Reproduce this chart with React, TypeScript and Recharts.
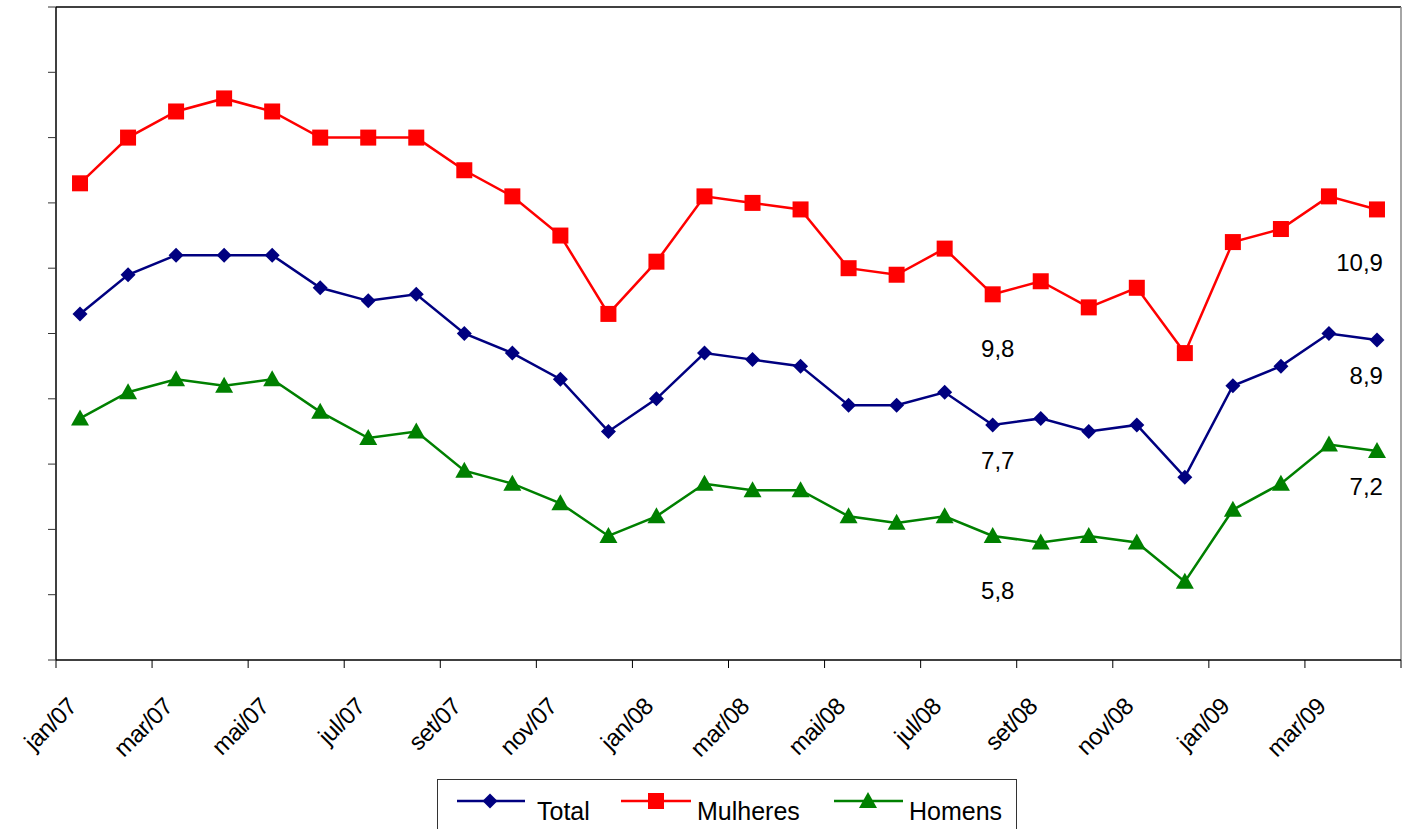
import React from 'react';
import { LineChart, Line, XAxis, YAxis, LabelList, ReferenceLine } from 'recharts';

const months = [
  'jan/07', 'fev/07', 'mar/07', 'abr/07', 'mai/07', 'jun/07', 'jul/07', 'ago/07', 'set/07', 'out/07', 'nov/07', 'dez/07',
  'jan/08', 'fev/08', 'mar/08', 'abr/08', 'mai/08', 'jun/08', 'jul/08', 'ago/08', 'set/08', 'out/08', 'nov/08', 'dez/08',
  'jan/09', 'fev/09', 'mar/09', 'abr/09',
];

const total = [9.3, 9.9, 10.2, 10.2, 10.2, 9.7, 9.5, 9.6, 9.0, 8.7, 8.3, 7.5, 8.0, 8.7, 8.6, 8.5, 7.9, 7.9, 8.1, 7.6, 7.7, 7.5, 7.6, 6.8, 8.2, 8.5, 9.0, 8.9];
const mulheres = [11.3, 12.0, 12.4, 12.6, 12.4, 12.0, 12.0, 12.0, 11.5, 11.1, 10.5, 9.3, 10.1, 11.1, 11.0, 10.9, 10.0, 9.9, 10.3, 9.6, 9.8, 9.4, 9.7, 8.7, 10.4, 10.6, 11.1, 10.9];
const homens = [7.7, 8.1, 8.3, 8.2, 8.3, 7.8, 7.4, 7.5, 6.9, 6.7, 6.4, 5.9, 6.2, 6.7, 6.6, 6.6, 6.2, 6.1, 6.2, 5.9, 5.8, 5.9, 5.8, 5.2, 6.3, 6.7, 7.3, 7.2];

const yTicks = [4, 5, 6, 7, 8, 9, 10, 11, 12, 13, 14];
const xTicks = [0, 2, 4, 6, 8, 10, 12, 14, 16, 18, 20, 22, 24, 26, 28];
const labeledIndices = [20, 27];

const data = months.map((m, i) => ({
  x: i + 0.5,
  month: m,
  total: total[i],
  mulheres: mulheres[i],
  homens: homens[i],
}));

const FONT = '"Liberation Sans", Arial, sans-serif';
const BLUE = '#000080';
const RED = '#FF0000';
const GREEN = '#008000';

const Diamond = (props: any) => {
  const { cx, cy } = props;
  if (cx == null || cy == null) return null;
  const r = 7.5;
  return <path d={`M${cx},${cy - r}L${cx + r},${cy}L${cx},${cy + r}L${cx - r},${cy}Z`} fill={BLUE} />;
};
const Square = (props: any) => {
  const { cx, cy } = props;
  if (cx == null || cy == null) return null;
  return <rect x={cx - 8} y={cy - 8} width={16} height={16} fill={RED} />;
};
const Triangle = (props: any) => {
  const { cx, cy } = props;
  if (cx == null || cy == null) return null;
  return <path d={`M${cx},${cy - 9}L${cx + 9},${cy + 7}L${cx - 9},${cy + 7}Z`} fill={GREEN} />;
};

const labelOffsets: Record<string, { mid: number; end: number }> = {
  mulheres: { mid: 76, end: 62 },
  total: { mid: 51, end: 44 },
  homens: { mid: 57, end: 44 },
};

const makeLabel = (key: string) => (props: any) => {
  const { x, y, value, index } = props;
  if (!labeledIndices.includes(index)) return null;
  const txt = String(value.toFixed(1)).replace('.', ',');
  const isLast = index === data.length - 1;
  const off = labelOffsets[key];
  if (isLast) {
    return (
      <text x={x + 6} y={y + off.end} textAnchor="end" fontSize={24} fontFamily={FONT} fill="#000">
        {txt}
      </text>
    );
  }
  return (
    <text x={x - 43} y={y + off.mid} textAnchor="middle" fontSize={24} fontFamily={FONT} fill="#000">
      {txt}
    </text>
  );
};

const XTick = (props: any) => {
  const { x, y, payload } = props;
  const label = months[payload.value];
  if (!label) return null;
  const ax = x + 22;
  const ay = y + 38;
  return (
    <text x={ax} y={ay} transform={`rotate(-45, ${ax}, ${ay})`} textAnchor="end" fontSize={24} letterSpacing={-0.6} fontFamily={FONT} fill="#000">
      {label}
    </text>
  );
};

const LegendBox = () => (
  <div
    style={{
      position: 'absolute',
      left: 437,
      top: 779,
      width: 580,
      height: 60,
      border: '1.5px solid #333',
      background: '#fff',
      boxSizing: 'border-box',
    }}
  >
    <svg width={580} height={60} style={{ position: 'absolute', left: -1, top: -1 }}>
      <line x1={20} y1={22} x2={88} y2={22} stroke={BLUE} strokeWidth={2.5} />
      <Diamond cx={53} cy={22} />
      <text x={100} y={41} fontSize={25} fontFamily={FONT}>Total</text>
      <line x1={184} y1={22} x2={254} y2={22} stroke={RED} strokeWidth={2.5} />
      <Square cx={219} cy={22} />
      <text x={260} y={41} fontSize={25} fontFamily={FONT}>Mulheres</text>
      <line x1={397} y1={22} x2={466} y2={22} stroke={GREEN} strokeWidth={2.5} />
      <Triangle cx={431} cy={22} />
      <text x={472} y={41} fontSize={25} fontFamily={FONT}>Homens</text>
    </svg>
  </div>
);

export default function App() {
  return (
    <div style={{ position: 'absolute', left: 0, top: 0, width: 1405, height: 829, overflow: 'hidden', background: '#fff', fontFamily: FONT }}>
      <LineChart width={1405} height={829} data={data} margin={{ top: 7, right: 4, left: 0, bottom: 0 }}>
        <XAxis
          xAxisId="x"
          dataKey="x"
          type="number"
          domain={[0, 28]}
          ticks={xTicks}
          interval={0}
          height={169}
          tickSize={8}
          tickLine={{ stroke: '#000' }}
          axisLine={{ stroke: '#000', strokeWidth: 1.5 }}
          tick={<XTick />}
        />
        <YAxis
          yAxisId="y"
          type="number"
          domain={[4, 14]}
          ticks={yTicks}
          interval={0}
          width={56}
          tickSize={8}
          tickFormatter={() => ''}
          tickLine={{ stroke: '#333' }}
          axisLine={{ stroke: '#000', strokeWidth: 1.5 }}
        />
        <ReferenceLine xAxisId="x" yAxisId="y" y={14} stroke="#000" strokeWidth={1.5} ifOverflow="visible" />
        <ReferenceLine xAxisId="x" yAxisId="y" x={28} stroke="#888" strokeWidth={1.5} ifOverflow="visible" />
        <Line xAxisId="x" yAxisId="y" dataKey="total" stroke={BLUE} strokeWidth={2.5} dot={<Diamond />} activeDot={false} isAnimationActive={false}>
          <LabelList dataKey="total" content={makeLabel('total')} />
        </Line>
        <Line xAxisId="x" yAxisId="y" dataKey="mulheres" stroke={RED} strokeWidth={2.5} dot={<Square />} activeDot={false} isAnimationActive={false}>
          <LabelList dataKey="mulheres" content={makeLabel('mulheres')} />
        </Line>
        <Line xAxisId="x" yAxisId="y" dataKey="homens" stroke={GREEN} strokeWidth={2.5} dot={<Triangle />} activeDot={false} isAnimationActive={false}>
          <LabelList dataKey="homens" content={makeLabel('homens')} />
        </Line>
      </LineChart>
      <LegendBox />
    </div>
  );
}
